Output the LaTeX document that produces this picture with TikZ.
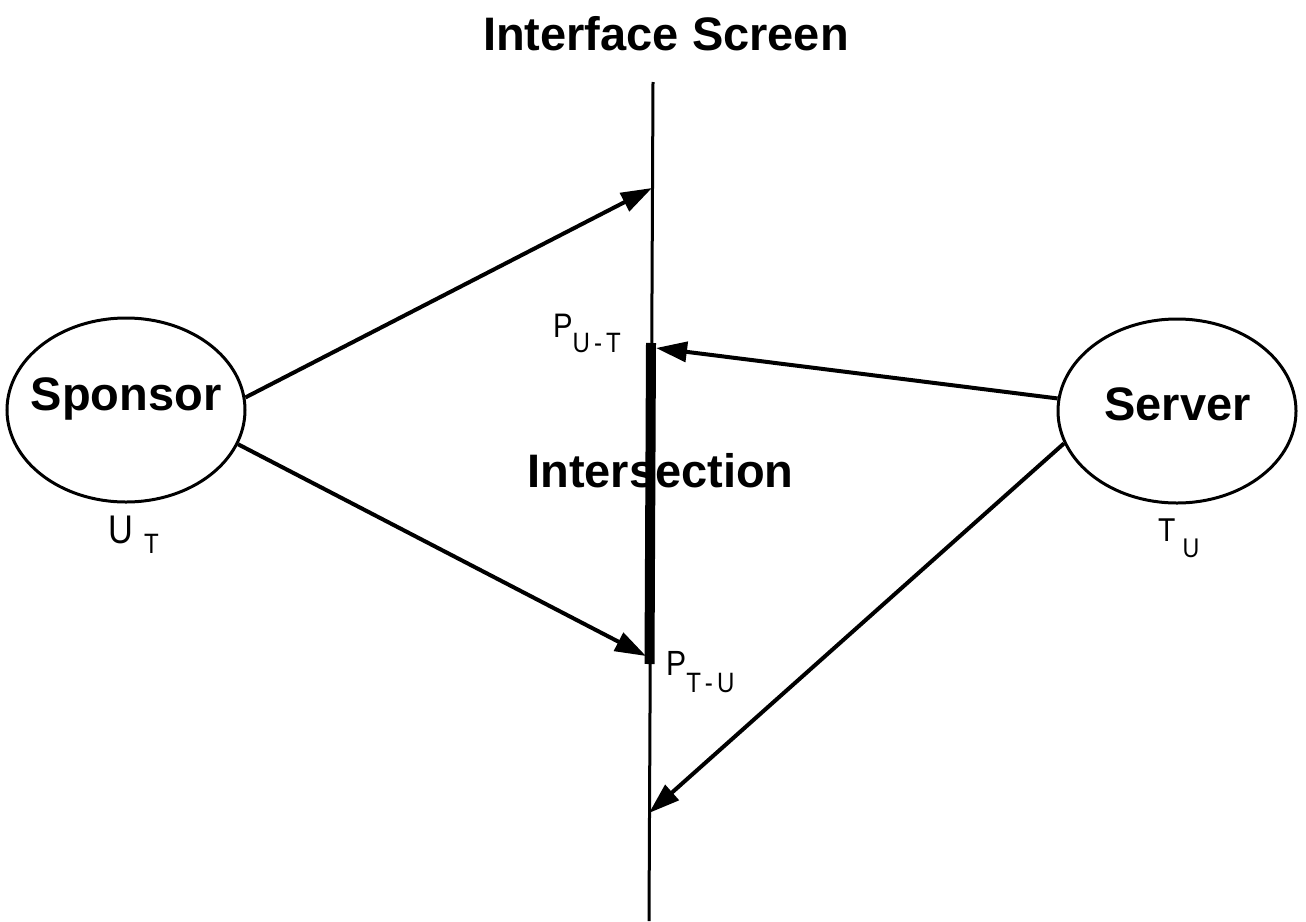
\documentclass[tikz,border=0pt]{standalone}
\usepackage{fontspec}
\setmainfont{Liberation Sans}
\usetikzlibrary{arrows.meta,shapes.geometric}
% narrow regular lettering for the small labels: [size]{text}
\newcommand\narrowtext[2][33]{\scalebox{0.86}[1]{\fontsize{#1}{#1}\selectfont #2}}
\begin{document}
\begin{tikzpicture}[x=1pt,y=-1pt,
  blob/.style={draw, ellipse, line width=3pt, minimum width=238pt,
               minimum height=184pt, inner sep=0pt},
  heading/.style={font=\bfseries\fontsize{47}{47}\selectfont, inner sep=0pt, anchor=base},
  sublabel/.style={inner sep=0pt, anchor=base west},
  flow/.style={line width=4pt, -{Triangle[length=31pt,width=20pt]}}]

\fill[white] (0,0) rectangle (1306,921);
\useasboundingbox (0,0) rectangle (1306,921);

% the screen and its shared stretch
\coordinate (screentop) at (653,82);
\coordinate (screenbot) at (649,921);
\draw[line width=3pt] (screentop) -- (screenbot);
\coordinate (bartop) at (651,343);
\coordinate (barbot) at (649.5,664);
\draw[line width=10pt] (bartop) -- (barbot);

% the two parties
\node[blob] (sponsor) at (126,410) {};
\node[blob] (server) at (1177,411) {};
\node[heading] (sponsortext) at (126,410) {Sponsor};
\node[heading] (servertext) at (1177.5,420) {Server};
\node[heading] (title) at (666,50) {Interface Screen};
\node[heading] (inter) at (660.5,487) {Intersection};

% where the arrows meet the screen
\coordinate (hitA) at (652,188);
\coordinate (hitB) at (646,656);
\coordinate (hitC) at (656,348);
\coordinate (hitD) at (649,813);

\draw[flow] (sponsor.6) -- (hitA);
\draw[flow] (sponsor.-17) -- (hitB);
\draw[flow] (server.174) -- (hitC);
\draw[flow] (server.-164) -- (hitD);

% labels
\node[sublabel] (ut) at (108,543)
  {\narrowtext[40]{U}\hspace{11pt}\raisebox{-10pt}{\narrowtext[28]{T}}};
\node[sublabel] (tu) at (1158,541)
  {\narrowtext[33]{T}\hspace{7pt}\raisebox{-16pt}{\narrowtext[27]{U}}};
\node[sublabel] (put) at (553,337)
  {\narrowtext[34]{P}\raisebox{-15pt}{\narrowtext[28]{U\,-\,T}}};
\node[sublabel] (ptu) at (666,675)
  {\narrowtext[35]{P}\raisebox{-17pt}{\narrowtext[28]{T\,-\,U}}};
\end{tikzpicture}
\end{document}
